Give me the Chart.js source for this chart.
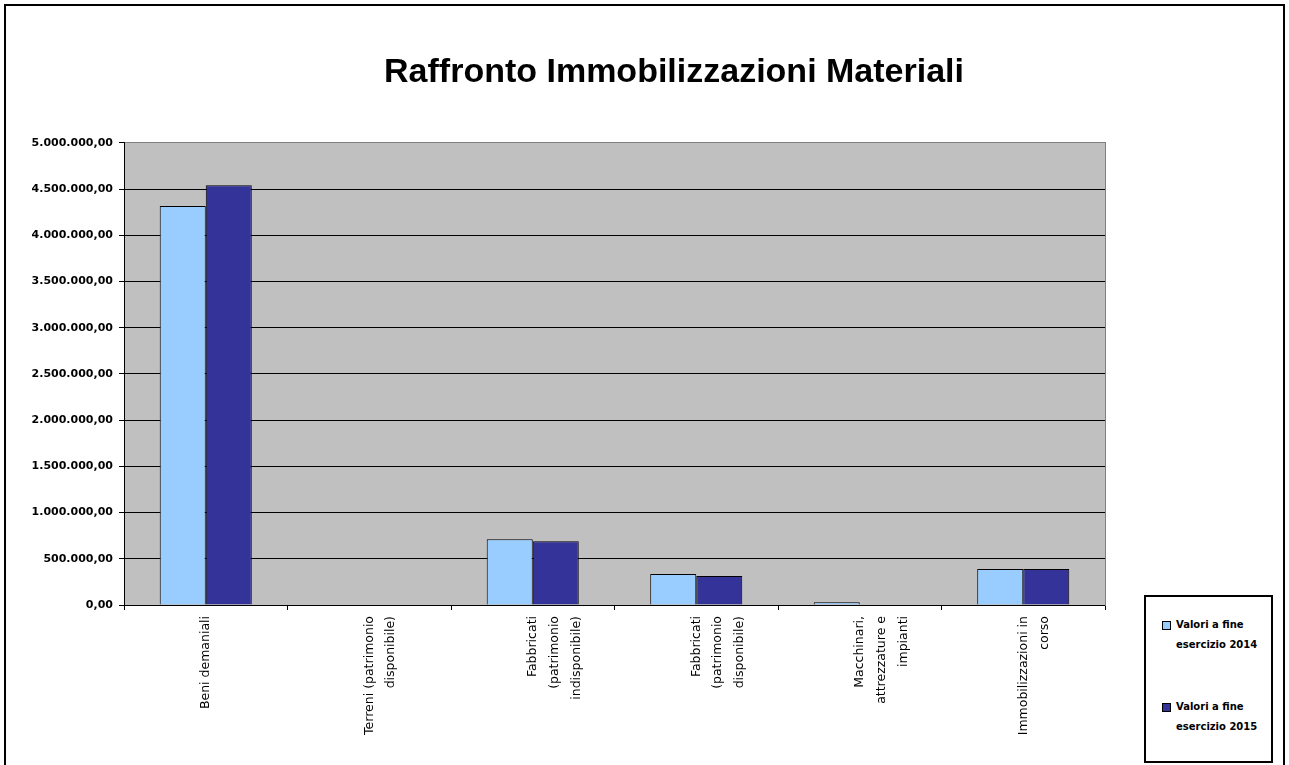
<!DOCTYPE html>
<html>
<head>
<meta charset="utf-8">
<script src="https://cdn.jsdelivr.net/npm/chart.js@4/dist/chart.umd.min.js"></script>
<style>
  body { margin: 0; background: #fff; }
  #wrap { position: relative; width: 1289px; height: 765px; overflow: hidden; }
  #frame {
    position: absolute; left: 4px; top: 4px; width: 1281px; height: 800px;
    border: 2px solid #000; box-sizing: border-box; pointer-events: none;
  }
  #legend {
    position: absolute; left: 1144px; top: 595px; width: 129px; height: 168px;
    border: 2px solid #000; box-sizing: border-box; background: #fff;
    font: bold 10px "DejaVu Sans", sans-serif; color: #000;
  }
  .item { position: absolute; left: 16px; line-height: 20px; }
  .sw {
    position: absolute; left: 0; top: 6px; width: 7px; height: 7px;
    border: 1px solid #000;
  }
  .txt { margin-left: 14px; white-space: nowrap; }
</style>
</head>
<body>
<div id="wrap">
  <canvas id="myChart" width="1289" height="765"></canvas>
  <div id="frame"></div>
  <div id="legend"></div>
</div>
<script>
// data
const categories = [
  "Beni demaniali",
  ["Terreni (patrimonio", "disponibile)"],
  ["Fabbricati", "(patrimonio", "indisponibile)"],
  ["Fabbricati", "(patrimonio", "disponibile)"],
  ["Macchinari,", "attrezzature e", "impianti"],
  ["Immobilizzazioni in", "corso"],
];
const values2014 = [4315000, 0, 712000, 336000, 29000, 390000];
const values2015 = [4542000, 0, 690000, 314000, 0, 390000];
const seriesNames = [["Valori a fine", "esercizio 2014"], ["Valori a fine", "esercizio 2015"]];
const seriesColors = ["#99CCFF", "#333399"];
const yMax = 5000000;
const yStep = 500000;

// 5.000.000,00 style
function formatIt(v) {
  const parts = Math.round(v).toString().replace(/\B(?=(\d{3})+(?!\d))/g, ".");
  return parts + ",00";
}

// gray plot background
const plotBg = {
  id: "plotBg",
  beforeDraw(chart) {
    const { ctx, chartArea } = chart;
    ctx.save();
    ctx.fillStyle = "#C0C0C0";
    ctx.fillRect(chartArea.left, chartArea.top, chartArea.right - chartArea.left, chartArea.bottom - chartArea.top);
    ctx.restore();
  },
};

Chart.defaults.color = "#000";

const ctx = document.getElementById("myChart").getContext("2d");
const myChart = new Chart(ctx, {
  type: "bar",
  data: {
    labels: categories,
    datasets: [
      {
        label: seriesNames[0].join(" "),
        data: values2014,
        backgroundColor: seriesColors[0],
        borderColor: "#000",
        borderWidth: 1,
      },
      {
        label: seriesNames[1].join(" "),
        data: values2015,
        backgroundColor: seriesColors[1],
        borderColor: "#000",
        borderWidth: 1,
      },
    ],
  },
  options: {
    responsive: false,
    animation: false,
    devicePixelRatio: 1,
    categoryPercentage: 0.563,
    barPercentage: 1,
    // right padding below zero so the title centres where the original has it
    layout: { padding: { left: 30, right: -29, top: 0, bottom: 0 } },
    plugins: {
      legend: { display: false },
      tooltip: { enabled: false },
      title: {
        display: true,
        text: "Raffronto Immobilizzazioni Materiali",
        color: "#000",
        font: { family: "'Liberation Sans', Arial, sans-serif", size: 34, weight: "bold" },
        padding: { top: 52, bottom: 50 },
      },
    },
    scales: {
      x: {
        grid: {
          offset: true,
          drawOnChartArea: false,
          drawTicks: true,
          tickLength: 5,
          color: "#000",
        },
        border: { display: true, color: "#000", width: 1 },
        ticks: {
          maxRotation: 90,
          minRotation: 90,
          autoSkip: false,
          padding: 6,
          color: "#000",
          font: { family: "'DejaVu Sans', sans-serif", size: 12.5, lineHeight: 1.75 },
        },
        afterFit(scale) {
          scale.height = 160;
        },
      },
      y: {
        min: 0,
        max: yMax,
        ticks: {
          stepSize: yStep,
          padding: 6,
          color: "#000",
          font: { family: "'DejaVu Sans', sans-serif", size: 11, weight: "bold" },
          callback: (v) => formatIt(v),
        },
        grid: {
          color: (c) => (c.tick && c.tick.value === yMax ? "#808080" : "#000"),
          tickColor: "#000",
          tickLength: 5,
          lineWidth: 1,
        },
        border: { display: true, color: "#000", width: 1 },
        afterFit(scale) {
          scale.width = 94;
        },
      },
      right: {
        position: "right",
        display: true,
        grid: { display: false },
        ticks: { display: false },
        border: { display: true, color: "#808080", width: 1 },
        afterFit(scale) {
          scale.width = 213;
        },
      },
    },
  },
  plugins: [plotBg],
});

// legend box
const legendEl = document.getElementById("legend");
const itemTops = [18, 100];
seriesNames.forEach((name, i) => {
  const item = document.createElement("div");
  item.className = "item";
  item.style.top = itemTops[i] + "px";
  const sw = document.createElement("div");
  sw.className = "sw";
  sw.style.background = seriesColors[i];
  const txt = document.createElement("div");
  txt.className = "txt";
  txt.innerHTML = name.join("<br>");
  item.appendChild(sw);
  item.appendChild(txt);
  legendEl.appendChild(item);
});
</script>
</body>
</html>
